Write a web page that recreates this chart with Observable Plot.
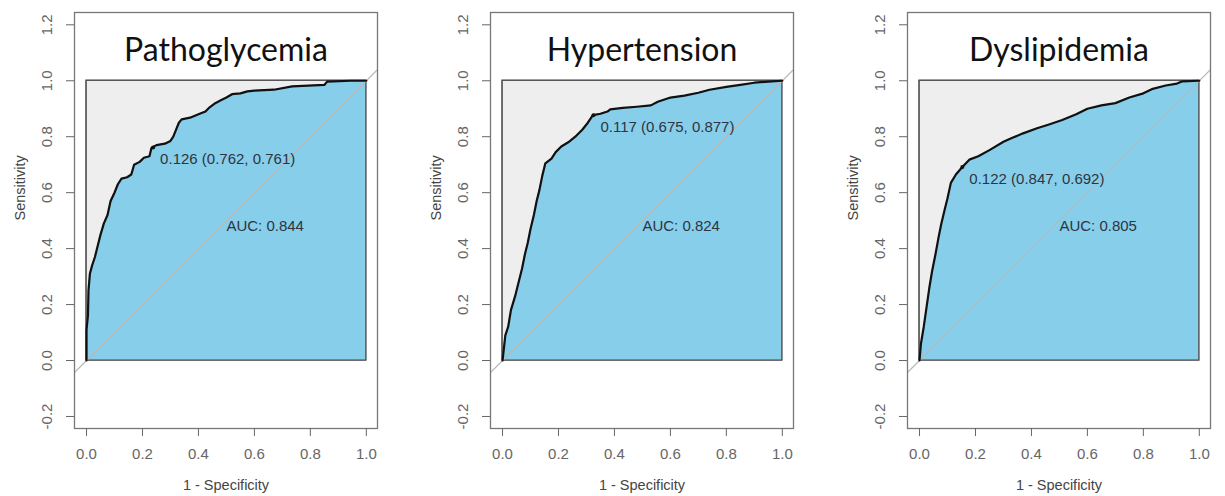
<!DOCTYPE html>
<html>
<head>
<meta charset="utf-8">
<script src="https://cdn.jsdelivr.net/npm/d3@7"></script>
<script src="https://cdn.jsdelivr.net/npm/@observablehq/plot@0.6"></script>
<style>
  html, body { margin: 0; padding: 0; background: #fff; }
  #wrap { position: relative; width: 1225px; height: 496px; overflow: hidden; }
  .panel { position: absolute; top: 0; }
</style>
</head>
<body>
<div id="wrap"></div>
<script>
// ---- Data ----
const titles = ["Pathoglycemia", "Hypertension", "Dyslipidemia"];

// ROC curves: 1 - specificity (fpr) and sensitivity
const fpr1  = [0,0,0.005,0.007,0.012,0.02,0.03,0.04,0.05,0.062,0.075,0.086,0.1,0.112,0.125,0.145,0.16,0.17,0.19,0.205,0.225,0.232,0.25,0.28,0.3,0.31,0.318,0.33,0.34,0.37,0.4,0.425,0.44,0.46,0.48,0.5,0.52,0.55,0.575,0.6,0.67,0.735,0.85,0.86,0.945,1];
const sens1 = [0,0.11,0.16,0.25,0.31,0.34,0.37,0.41,0.45,0.49,0.52,0.57,0.6,0.63,0.65,0.655,0.665,0.7,0.71,0.725,0.73,0.76,0.77,0.775,0.785,0.8,0.82,0.85,0.862,0.868,0.88,0.89,0.905,0.92,0.93,0.94,0.952,0.955,0.962,0.965,0.968,0.98,0.985,0.997,1,1];

const fpr2  = [0,0.01,0.02,0.03,0.045,0.055,0.07,0.08,0.09,0.1,0.112,0.122,0.132,0.142,0.153,0.175,0.19,0.21,0.235,0.26,0.285,0.305,0.323,0.35,0.375,0.385,0.43,0.48,0.53,0.555,0.6,0.65,0.7,0.74,0.8,0.85,0.9,0.95,1];
const sens2 = [0,0.09,0.12,0.18,0.23,0.27,0.33,0.38,0.42,0.47,0.52,0.57,0.61,0.66,0.705,0.722,0.745,0.765,0.78,0.8,0.825,0.85,0.877,0.882,0.89,0.898,0.903,0.907,0.912,0.925,0.94,0.947,0.957,0.968,0.978,0.985,0.993,0.997,1];

const fpr3  = [0,0.005,0.015,0.025,0.035,0.045,0.057,0.068,0.078,0.09,0.1,0.112,0.13,0.153,0.178,0.21,0.25,0.3,0.33,0.37,0.42,0.46,0.51,0.56,0.6,0.65,0.7,0.75,0.8,0.83,0.88,0.92,0.94,1];
const sens3 = [0,0.06,0.12,0.19,0.26,0.32,0.38,0.44,0.49,0.54,0.58,0.635,0.665,0.692,0.718,0.73,0.752,0.782,0.795,0.812,0.83,0.843,0.86,0.88,0.9,0.912,0.92,0.94,0.955,0.97,0.983,0.99,0.998,1];

const fprs = [fpr1, fpr2, fpr3];
const senss = [sens1, sens2, sens3];

// Best thresholds
const thresholds   = [0.126, 0.117, 0.122];
const thrSpec      = [0.762, 0.675, 0.847];
const thrSens      = [0.761, 0.877, 0.692];
const aucValues    = [0.844, 0.824, 0.805];

// Axis ticks
const xTicks = [0, 0.2, 0.4, 0.6, 0.8, 1.0];
const yTicks = [-0.2, 0, 0.2, 0.4, 0.6, 0.8, 1.0, 1.2];
const xLabel = "1 - Specificity";
const yLabel = "Sensitivity";
const unitSquare = [0, 1];

// ---- Layout ----
const xDomain = [-0.043, 1.04];
const yDomain = [-0.243, 1.244];
const lefts  = [0, 416, 833];
const widths = [416, 417, 392];
const fmt = d => d.toFixed(1);
const font = "Liberation Sans, Arial, sans-serif";

const wrap = document.getElementById("wrap");

titles.forEach((title, i) => {
  const roc = fprs[i].map((f, k) => ({fpr: f, sens: senss[i][k]}));
  const thr = [{x: 1 - thrSpec[i], y: thrSens[i],
    label: `${thresholds[i].toFixed(3)} (${thrSpec[i].toFixed(3)}, ${thrSens[i].toFixed(3)})`}];
  const diag = xDomain.map(v => ({x: v, y: v}));

  const plot = Plot.plot({
    width: widths[i],
    height: 496,
    marginLeft: 74,
    marginRight: widths[i] - 74 - 303,
    marginTop: 12,
    marginBottom: 68,
    style: {fontFamily: font, background: "#fff", overflow: "visible"},
    x: {domain: xDomain, ticks: xTicks},
    y: {domain: yDomain, ticks: yTicks},
    marks: [
      Plot.rect([0], {x1: unitSquare[0], x2: unitSquare[1], y1: unitSquare[0], y2: unitSquare[1],
        fill: "#eeeeee", stroke: "#555", strokeWidth: 1.2}),
      Plot.areaY(roc, {x: "fpr", y: "sens", fill: "#87ceeb", stroke: "none"}),
      Plot.rect([0], {x1: unitSquare[0], x2: unitSquare[1], y1: unitSquare[0], y2: unitSquare[1],
        fill: "none", stroke: "#555", strokeWidth: 1.2}),
      Plot.line(diag, {x: "x", y: "y", stroke: "#b8b8b8", strokeWidth: 1.2, clip: "frame"}),
      Plot.line(roc, {x: "fpr", y: "sens", stroke: "#111", strokeWidth: 2.2, strokeLinejoin: "round"}),
      Plot.dot(thr, {x: "x", y: "y", r: 2, fill: "#111"}),
      Plot.text(thr, {x: "x", y: "y", text: "label", dx: 7, dy: 12, textAnchor: "start",
        lineAnchor: "middle", fontSize: 15, fill: "#2e3440"}),
      Plot.text([aucValues[i]], {x: () => 0.5, y: () => 0.5, text: d => `AUC: ${d.toFixed(3)}`,
        textAnchor: "start", lineAnchor: "top", fontSize: 15, fill: "#2e3440"}),
      Plot.text([title], {frameAnchor: "top", dy: 48, text: d => d, lineAnchor: "bottom",
        fontSize: 32, fontFamily: "Lato, 'Open Sans', sans-serif", fill: "#111"}),
      Plot.frame({stroke: "#777", strokeWidth: 1.3}),
      Plot.axisX({ticks: xTicks, tickSize: 8, tickPadding: 12, tickFormat: fmt,
        fontSize: 15, color: "#666", label: null}),
      Plot.axisY({ticks: yTicks, tickSize: 8, tickFormat: () => "", color: "#666", label: null}),
      Plot.text(yTicks, {y: d => d, text: d => fmt(d), frameAnchor: "left", dx: -27, rotate: -90,
        textAnchor: "middle", lineAnchor: "middle", fontSize: 15, fill: "#666"}),
      Plot.text([xLabel], {frameAnchor: "bottom", dy: 57, text: d => d, lineAnchor: "middle",
        fontSize: 14.5, fill: "#444"}),
      Plot.text([yLabel], {frameAnchor: "left", dx: -54, rotate: -90, text: d => d,
        lineAnchor: "middle", fontSize: 14.5, fill: "#444"})
    ]
  });
  plot.classList.add("panel");
  plot.style.left = lefts[i] + "px";
  wrap.appendChild(plot);
});
</script>
</body>
</html>
